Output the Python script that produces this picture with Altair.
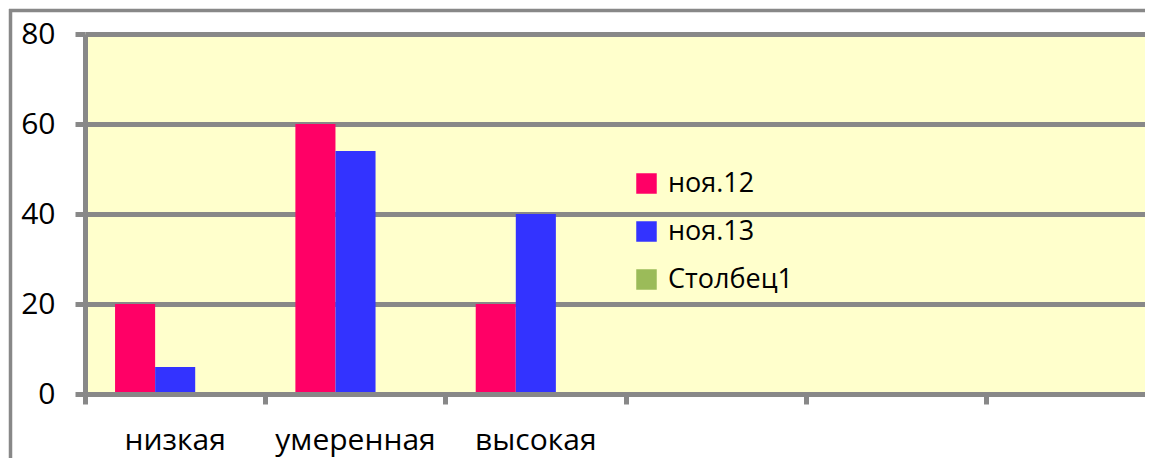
import altair as alt
import pandas as pd

categories = ["низкая", "умеренная", "высокая", "кат4", "кат5", "кат6"]
shown_labels = ["низкая", "умеренная", "высокая"]
series = ["ноя.12", "ноя.13", "Столбец1"]
colors = ["#FF0066", "#3333FF", "#9BBB59"]
values_nov12 = [20, 60, 20]
values_nov13 = [6, 54, 40]

rows = []
for c, v in zip(shown_labels, values_nov12):
    rows.append({"cat": c, "series": "ноя.12", "value": v})
for c, v in zip(shown_labels, values_nov13):
    rows.append({"cat": c, "series": "ноя.13", "value": v})
df = pd.DataFrame(rows)

FONT = "Open Sans"
GRAY = "#888888"
W, H = 1060, 360
BOTTOM = 64

label_expr = "indexof(" + str(shown_labels) + ", datum.value) >= 0 ? datum.value : ''"

bars = alt.Chart(df).mark_bar().encode(
    x=alt.X(
        "cat:N",
        sort=categories,
        scale=alt.Scale(domain=categories, range=[0, 1082], paddingInner=0, paddingOuter=0),
        axis=alt.Axis(
            title=None,
            bandPosition=0,
            labelExpr=label_expr,
            labelAngle=0,
            labelFont=FONT,
            labelFontSize=30,
            labelColor="black",
            labelBaseline="alphabetic",
            labelPadding=45,
            tickSize=10,
            tickWidth=5,
            tickColor=GRAY,
            domainColor=GRAY,
            domainWidth=5,
            grid=False,
            zindex=1,
        ),
    ),
    xOffset=alt.XOffset(
        "series:N",
        sort=series,
        scale=alt.Scale(domain=series, paddingInner=0, paddingOuter=0.75),
    ),
    y=alt.Y(
        "value:Q",
        scale=alt.Scale(domain=[0, 80], nice=False),
        axis=alt.Axis(
            title=None,
            values=[0, 20, 40, 60, 80],
            labelFont=FONT,
            labelFontSize=30,
            labelColor="black",
            labelPadding=20,
            tickSize=10,
            tickWidth=5,
            tickColor=GRAY,
            domainColor=GRAY,
            domainWidth=5,
            gridColor=GRAY,
            gridWidth=5,
            gridOpacity=1,
        ),
    ),
    color=alt.Color(
        "series:N",
        scale=alt.Scale(domain=series, range=colors),
        legend=alt.Legend(
            title=None,
            orient="none",
            legendX=548,
            legendY=136,
            symbolType="square",
            symbolSize=420,
            symbolStrokeWidth=0,
            symbolOpacity=1,
            labelFont=FONT,
            labelFontSize=27,
            labelColor="black",
            labelOffset=8,
            rowPadding=20,
            padding=0,
        ),
    ),
)

one = pd.DataFrame({"k": [0]})
frame_top = alt.Chart(one).mark_rule(stroke=GRAY, strokeWidth=3.5).encode(
    x=alt.value(-76), x2=alt.value(W), y=alt.value(-23.5)
)
frame_left = alt.Chart(one).mark_rule(stroke=GRAY, strokeWidth=3.5).encode(
    x=alt.value(-74.5), y=alt.value(-25), y2=alt.value(H + BOTTOM)
)

chart = alt.layer(frame_top, frame_left, bars).properties(
    width=W,
    height=H,
    autosize=alt.AutoSizeParams(type="none"),
    padding={"left": 77, "top": 26, "right": 0, "bottom": BOTTOM},
    background="white",
).configure_view(fill="#FFFFCC", strokeWidth=0)

chart.save("out.html", embed_options={"renderer": "svg", "actions": False})
